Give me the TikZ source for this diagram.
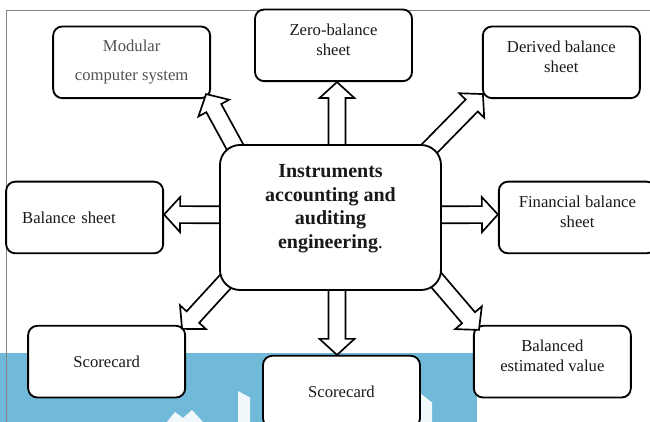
\documentclass[tikz,border=0pt]{standalone}
\usepackage{fontspec}
\setmainfont{Liberation Serif}
\usetikzlibrary{positioning, calc}

\pgfdeclarelayer{back}
\pgfdeclarelayer{front}
\pgfsetlayers{back,main,front}

\definecolor{wmblue}{HTML}{70B9D8}
\definecolor{framegray}{HTML}{858585}

\newcommand\hollowarrow[2]{%
  \path (#1) coordinate (ha-s) (#2) coordinate (ha-t);
  \path [hollow]
      ($(ha-s)!5.1pt!90:(ha-t)$)
      -- ($(ha-t)!9.6pt!(ha-s)!5.1pt!90:(ha-t)$)
      -- ($(ha-t)!9.6pt!(ha-s)!10.5pt!90:(ha-t)$)
      -- (ha-t)
      -- ($(ha-t)!9.6pt!(ha-s)!10.5pt!-90:(ha-t)$)
      -- ($(ha-t)!9.6pt!(ha-s)!5.1pt!-90:(ha-t)$)
      -- ($(ha-s)!5.1pt!-90:(ha-t)$);
}

\begin{document}
\begin{tikzpicture}[
    box/.style={draw, rounded corners=5.5pt, fill=white, line width=1.1pt,
      minimum width=94.2pt, minimum height=43pt, align=center, inner sep=2pt,
      text=black!90},
    twoline/.style={text depth=7pt},
    hollow/.style={draw, fill=white, line width=1pt, line join=miter}]
  \useasboundingbox (-198.3pt,-122.7pt) rectangle (191.7pt,130.5pt);

  \begin{pgfonlayer}{back}
    \fill [wmblue] (-198.3pt,-122.7pt) rectangle (87.9pt,-81.3pt);
    \fill [white, opacity=0.9] (-55.5pt,-104.1pt) -- (-48.3pt,-108pt) -- (-48.3pt,-122.7pt) -- (-55.5pt,-122.7pt) -- cycle;
    \fill [white, opacity=0.9] (53.7pt,-105.3pt) -- (60.9pt,-111pt) -- (60.9pt,-122.7pt) -- (53.7pt,-122.7pt) -- cycle;
    \fill [white, opacity=0.9] (-98.1pt,-122.7pt) -- (-93.3pt,-116.7pt) -- (-88.5pt,-120.3pt) -- (-83.1pt,-115.5pt) -- (-76.5pt,-122.7pt) -- cycle;
    \draw [framegray, line width=0.6pt] (-194.1pt,-122.7pt) -- (-194.1pt,123.9pt) -- (191.7pt,123.9pt);
  \end{pgfonlayer}

  \begin{pgfonlayer}{front}
    \node (main) [draw, rounded corners=12pt, fill=white, line width=1.1pt,
      minimum width=132.6pt, minimum height=87pt, align=center, text depth=13.4pt,
      font=\fontsize{12}{14.2}\selectfont\bfseries, text=black!90] at (0,0)
      {Instruments\\accounting and\\auditing\\engineering{\mdseries.}};
  \end{pgfonlayer}

  \node (zero) [box, twoline, above=37.2pt of main, xshift=1.8pt] {Zero-balance\\sheet};
  \node (modular) [box, above left=27pt and 4.8pt of main, text=black!68] {Modular\\[5.4pt]computer system};
  \node (derived) [box, twoline, above right=27pt and 24pt of main] {Derived balance\\sheet};
  \node (balance) [box, left=33pt of main, align=left, text width=75pt] {Balance sheet};
  \node (financial) [box, twoline, right=33.6pt of main] {Financial balance\\sheet};
  \node (card1) [box, below left=20.4pt and 19.8pt of main] {Scorecard};
  \node (card2) [box, below=38.4pt of main, xshift=6.6pt] {Scorecard};
  \node (value) [box, twoline, below right=20.4pt and 18.6pt of main] {Balanced\\estimated value};

  \hollowarrow{[xshift=3.9pt]main.center}{[xshift=2.1pt]zero.south}
  \hollowarrow{[xshift=3.9pt]main.center}{[xshift=-2.7pt]card2.north}
  \hollowarrow{[yshift=1.2pt]main.center}{[yshift=1.8pt]balance.east}
  \hollowarrow{[yshift=1.2pt]main.center}{[yshift=1.8pt]financial.west}
  \hollowarrow{[shift={(23.5pt,-27.2pt)}]main.north west}{[shift={(-3pt,3pt)}]modular.south east}
  \hollowarrow{[shift={(-25.3pt,-20.9pt)}]main.north east}{[shift={(0.6pt,3pt)}]derived.south west}
  \hollowarrow{[shift={(19.1pt,22.3pt)}]main.south west}{[shift={(-2.4pt,-2.4pt)}]card1.north east}
  \hollowarrow{[shift={(-17.2pt,22.7pt)}]main.south east}{[shift={(3.6pt,-3pt)}]value.north west}
\end{tikzpicture}
\end{document}
